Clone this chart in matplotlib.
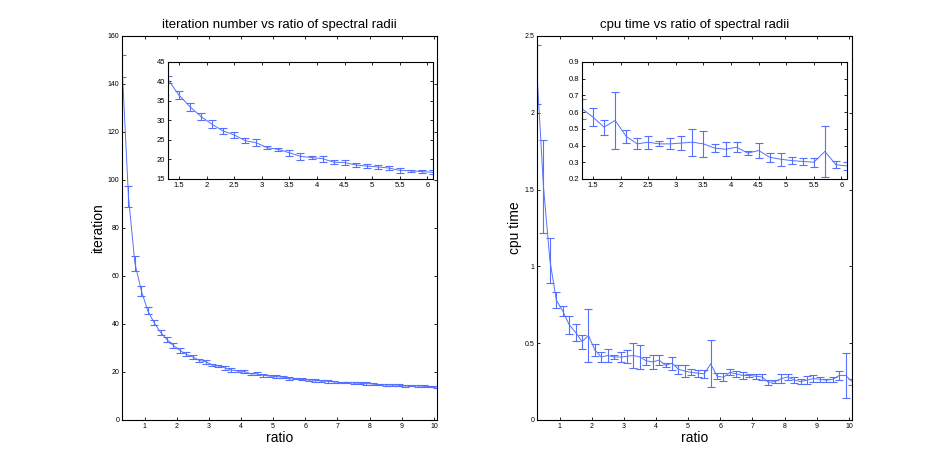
import matplotlib
matplotlib.use('Agg')
import matplotlib.pyplot as plt

plt.rcParams['font.family'] = ['Liberation Sans', 'DejaVu Sans']

# ratio of spectral radii (sample points)
ratio = [0.3, 0.5, 0.7, 0.9, 1.1, 1.3, 1.5, 1.7, 1.9, 2.1,
         2.3, 2.5, 2.7, 2.9, 3.1, 3.3, 3.5, 3.7, 3.9, 4.1,
         4.3, 4.5, 4.7, 4.9, 5.1, 5.3, 5.5, 5.7, 5.9, 6.1,
         6.3, 6.5, 6.7, 6.9, 7.1, 7.3, 7.5, 7.7, 7.9, 8.1,
         8.3, 8.5, 8.7, 8.9, 9.1, 9.3, 9.5, 9.7, 9.9, 10.1]

iter_mean = [147.5, 93.0, 65.3, 53.8, 45.5, 40.5, 36.5, 33.5, 31.0, 29.0,
             27.3, 26.3, 24.8, 24.3, 23.0, 22.6, 21.7, 20.8, 20.5, 20.2,
             19.3, 19.2, 18.6, 18.3, 18.1, 17.8, 17.2, 17.1, 16.9, 16.7,
             16.5, 16.2, 16.1, 15.9, 15.6, 15.7, 15.4, 15.3, 15.2, 15.0,
             14.8, 14.6, 14.6, 14.5, 14.3, 14.3, 14.2, 14.0, 14.0, 13.8]
iter_err = [4.5, 4.3, 3.2, 2.2, 1.5, 1.0, 1.0, 1.0, 1.0, 1.0,
            0.85, 0.75, 0.65, 0.85, 0.35, 0.45, 0.7, 0.85, 0.4, 0.75,
            0.45, 0.6, 0.55, 0.55, 0.5, 0.5, 0.6, 0.2, 0.45, 0.55,
            0.5, 0.5, 0.6, 0.5, 0.4, 0.3, 0.5, 0.5, 0.5, 0.4,
            0.3, 0.4, 0.4, 0.5, 0.4, 0.3, 0.3, 0.4, 0.3, 0.4]

cpu_mean = [2.25, 1.52, 1.04, 0.78, 0.71, 0.62, 0.57, 0.51, 0.55, 0.455,
            0.41, 0.42, 0.41, 0.41, 0.415, 0.42, 0.41, 0.385, 0.378, 0.39,
            0.355, 0.37, 0.33, 0.318, 0.31, 0.305, 0.30, 0.365, 0.285, 0.278,
            0.31, 0.30, 0.29, 0.29, 0.285, 0.28, 0.245, 0.25, 0.27, 0.28,
            0.26, 0.25, 0.26, 0.27, 0.265, 0.26, 0.265, 0.29, 0.29, 0.25]
cpu_err = [0.19, 0.30, 0.145, 0.05, 0.035, 0.06, 0.055, 0.045, 0.17, 0.04,
           0.033, 0.04, 0.015, 0.033, 0.043, 0.08, 0.08, 0.025, 0.043, 0.03,
           0.013, 0.043, 0.028, 0.04, 0.02, 0.023, 0.028, 0.153, 0.02, 0.025,
           0.02, 0.02, 0.02, 0.01, 0.015, 0.02, 0.015, 0.01, 0.03, 0.02,
           0.02, 0.015, 0.028, 0.023, 0.015, 0.01, 0.015, 0.03, 0.147, 0.02]

LINE = '#5570ff'
INSET_XT = [1.5, 2, 2.5, 3, 3.5, 4, 4.5, 5, 5.5, 6]
INSET_XL = ['1.5', '2', '2.5', '3', '3.5', '4', '4.5', '5', '5.5', '6']


def style_axes(ax, tick_size, tick_len):
    ax.tick_params(direction='in', top=True, right=True, labelsize=tick_size,
                   length=tick_len, width=0.6, pad=2)
    for s in ax.spines.values():
        s.set_linewidth(0.8)
        s.set_color('black')


def draw(ax, y, e, capsize):
    ax.errorbar(ratio, y, yerr=e, color=LINE, ecolor=LINE, lw=0.7,
                elinewidth=0.8, capsize=capsize, capthick=0.8)


fig = plt.figure(figsize=(9.41, 4.73), dpi=100)

# left: iteration number
ax1 = fig.add_axes([0.1297, 0.1121, 0.3348, 0.8118])
draw(ax1, iter_mean, iter_err, 3)
ax1.set_xlim(0.3, 10.1)
ax1.set_ylim(0, 160)
ax1.set_xticks(range(1, 11))
ax1.set_yticks(range(0, 161, 20))
style_axes(ax1, 5, 2.5)
ax1.set_title("iteration number vs ratio of spectral radii", fontsize=9.5, pad=6)
ax1.set_xlabel("ratio", fontsize=10, labelpad=1)
ax1.set_ylabel("iteration", fontsize=10, labelpad=2)

in1 = fig.add_axes([0.1785, 0.6216, 0.2816, 0.2474])
draw(in1, iter_mean, iter_err, 3)
in1.set_xlim(1.3, 6.1)
in1.set_ylim(15, 45)
in1.set_xticks(INSET_XT)
in1.set_xticklabels(INSET_XL)
in1.set_yticks(range(15, 46, 5))
style_axes(in1, 5.5, 2.5)

# right: cpu time
ax2 = fig.add_axes([0.5707, 0.1121, 0.3348, 0.8118])
draw(ax2, cpu_mean, cpu_err, 3)
ax2.set_xlim(0.3, 10.1)
ax2.set_ylim(0, 2.5)
ax2.set_xticks(range(1, 11))
ax2.set_yticks([0, 0.5, 1, 1.5, 2, 2.5])
ax2.set_yticklabels(['0', '0.5', '1', '1.5', '2', '2.5'])
style_axes(ax2, 5, 2.5)
ax2.set_title("cpu time vs ratio of spectral radii", fontsize=9.5, pad=6)
ax2.set_xlabel("ratio", fontsize=10, labelpad=1)
ax2.set_ylabel("cpu time", fontsize=10, labelpad=2)

in2 = fig.add_axes([0.6185, 0.6216, 0.2816, 0.2474])
draw(in2, cpu_mean, cpu_err, 3)
in2.set_xlim(1.3, 6.1)
in2.set_ylim(0.2, 0.9)
in2.set_xticks(INSET_XT)
in2.set_xticklabels(INSET_XL)
in2.set_yticks([0.2, 0.3, 0.4, 0.5, 0.6, 0.7, 0.8, 0.9])
style_axes(in2, 5.5, 2.5)

fig.savefig('out.png', dpi=100)
